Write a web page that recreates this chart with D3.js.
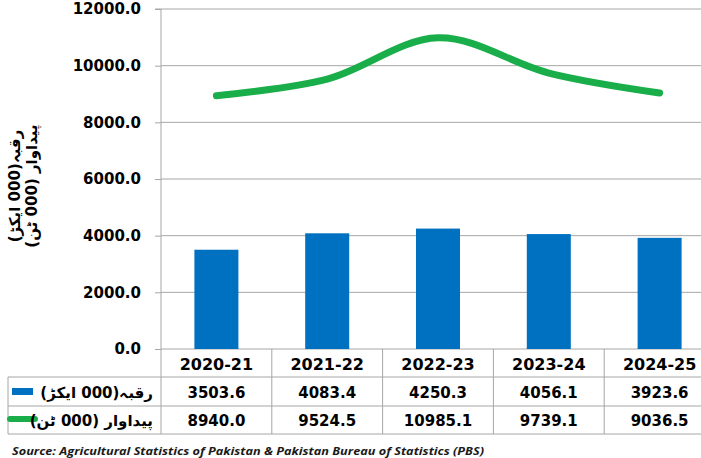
<!DOCTYPE html>
<html><head><meta charset="utf-8">
<script src="https://cdn.jsdelivr.net/npm/d3@7"></script>
<style>body{margin:0;background:#fff;}svg{display:block;}</style>
</head><body>
<svg id="c" width="701" height="458"></svg>
<script>
const categories = ["2020-21","2021-22","2022-23","2023-24","2024-25"];
const areaValues = [3503.6,4083.4,4250.3,4056.1,3923.6];
const prodValues = [8940.0,9524.5,10985.1,9739.1,9036.5];
const yTicks = [0,2000,4000,6000,8000,10000,12000];
const areaLabel = "رقبہ(000 ایکڑ)";
const prodLabel = "پیداوار (000 ٹن)";
const sourceText = "Source: Agricultural Statistics of Pakistan & Pakistan Bureau of Statistics (PBS)";

const svg = d3.select("#c");
const plotLeft = 161, colW = 110.8, plotTop = 9, plotBottom = 349;
const plotRight = plotLeft + colW*categories.length;
const x = d3.scaleBand().domain(categories).range([plotLeft, plotRight]);
const y = d3.scaleLinear().domain([0,12000]).range([plotBottom, plotTop]);
const grid = "#a6a6a6";
const numFont = "'DejaVu Sans', sans-serif";

// gridlines
svg.append("g").selectAll("line").data(yTicks).join("line")
  .attr("x1", plotLeft).attr("x2", 701)
  .attr("y1", d=>y(d)).attr("y2", d=>y(d))
  .attr("stroke", grid).attr("stroke-width", 1);

// y axis
const yAxis = d3.axisLeft(y).tickValues(yTicks).tickSize(6).tickPadding(14)
  .tickFormat(d=>d3.format(".1f")(d));
const ga = svg.append("g").attr("transform",`translate(${plotLeft},0)`).call(yAxis);
ga.select(".domain").attr("stroke", grid).attr("d", `M-6,${plotTop}H0V${plotBottom}`);
ga.selectAll(".tick line").attr("stroke", grid);
ga.selectAll(".tick text").attr("font-family", numFont).attr("font-weight","bold")
  .attr("font-size", 15).attr("fill","#000");

// bars
const bw = 44;
svg.append("g").selectAll("rect").data(areaValues).join("rect")
  .attr("x", (d,i)=>x(categories[i]) + x.bandwidth()/2 - bw/2)
  .attr("width", bw)
  .attr("y", d=>y(d)).attr("height", d=>plotBottom - y(d))
  .attr("fill", "#0070C0");

// line
const line = d3.line()
  .x((d,i)=>x(categories[i]) + x.bandwidth()/2)
  .y(d=>y(d))
  .curve(d3.curveCardinal.tension(0));
svg.append("path").datum(prodValues).attr("d", line)
  .attr("fill","none").attr("stroke","#1aae4b").attr("stroke-width",7)
  .attr("stroke-linecap","round");

// data table
const r1 = 349, r2 = 377, r3 = 406, r4 = 434, tLeft = 8;
const tg = svg.append("g").attr("stroke", grid).attr("stroke-width",1);
[r2, r3, r4].forEach(yy => tg.append("line").attr("x1", tLeft).attr("x2", 701).attr("y1", yy).attr("y2", yy));
tg.append("line").attr("x1", tLeft).attr("x2", tLeft).attr("y1", r2).attr("y2", r4);
tg.append("line").attr("x1", plotLeft).attr("x2", plotLeft).attr("y1", plotBottom).attr("y2", r4);
categories.forEach(c => {
  const xx = x(c) + x.bandwidth();
  tg.append("line").attr("x1", xx).attr("x2", xx).attr("y1", r1).attr("y2", r4);
});

function rowText(vals, yy, size){
  svg.append("g").selectAll("text").data(vals).join("text")
    .attr("x", (d,i)=>x(categories[i]) + x.bandwidth()/2)
    .attr("y", yy).attr("text-anchor","middle").attr("dominant-baseline","central")
    .attr("font-family", numFont).attr("font-weight","bold").attr("font-size", size)
    .attr("fill","#000").text(d=>d);
}
rowText(categories, (r1+r2)/2+1, 16);
rowText(areaValues.map(v=>v.toFixed(1)), (r2+r3)/2+1, 15);
rowText(prodValues.map(v=>v.toFixed(1)), (r3+r4)/2+1, 15);

// legend keys
svg.append("rect").attr("x", 12).attr("y", 388).attr("width", 21).attr("height", 7).attr("fill","#0070C0");
svg.append("line").attr("x1", 10).attr("x2", 35).attr("y1", 419).attr("y2", 419)
  .attr("stroke","#1aae4b").attr("stroke-width",6).attr("stroke-linecap","round");
svg.append("text").attr("x", 153).attr("y", (r2+r3)/2+1).attr("dominant-baseline","central")
  .attr("direction","rtl").attr("text-anchor","start")
  .attr("font-family", numFont).attr("font-weight","bold").attr("font-size", 15)
  .attr("fill","#000").text(areaLabel);
svg.append("text").attr("x", 153).attr("y", (r3+r4)/2+1).attr("dominant-baseline","central")
  .attr("direction","rtl").attr("text-anchor","start")
  .attr("font-family", numFont).attr("font-weight","bold").attr("font-size", 15)
  .attr("fill","#000").text(prodLabel);

// y-axis title (two lines rotated)
const yt = svg.append("g").attr("transform","translate(0,186) rotate(-90)");
yt.append("text").attr("x",0).attr("y",15).attr("text-anchor","middle").attr("dominant-baseline","central")
  .attr("direction","rtl")
  .attr("font-family", numFont).attr("font-weight","bold").attr("font-size", 15).attr("fill","#000").text(areaLabel);
yt.append("text").attr("x",0).attr("y",32).attr("text-anchor","middle").attr("dominant-baseline","central")
  .attr("direction","rtl")
  .attr("font-family", numFont).attr("font-weight","bold").attr("font-size", 15).attr("fill","#000").text(prodLabel);

// source
svg.append("text").attr("x", 12).attr("y", 455)
  .attr("font-family","'Open Sans', sans-serif").attr("font-weight","bold").attr("font-style","italic")
  .attr("font-size", 11).attr("fill","#1a1a1a")
  .attr("textLength", 472).attr("lengthAdjust","spacingAndGlyphs")
  .text(sourceText);
</script>
</body></html>
